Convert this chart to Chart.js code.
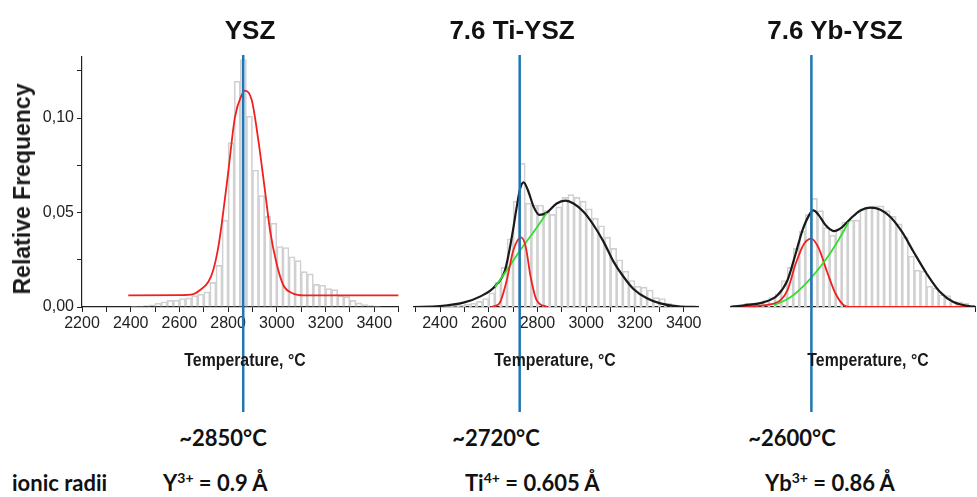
<!DOCTYPE html>
<html>
<head>
<meta charset="utf-8">
<script src="https://cdn.jsdelivr.net/npm/chart.js@4.4.0/dist/chart.umd.min.js"></script>
<style>
  body { margin: 0; background: #fff; }
  #wrap { position: relative; width: 977px; height: 497px; overflow: hidden; font-family: 'Liberation Sans', Arial, sans-serif; color: #111; }
  #wrap canvas { position: absolute; top: 0; }
  .head { position: absolute; top: 15px; font-weight: bold; font-size: 26px; line-height: 30px; transform: translateX(-50%); white-space: nowrap; }
  .xt { position: absolute; top: 349px; font-weight: bold; font-size: 18px; line-height: 22px; transform: translateX(-50%) scaleX(0.88); white-space: nowrap; color: #1a1a1a; }
  .yt { position: absolute; left: 22px; top: 189px; font-weight: bold; font-size: 23px; line-height: 26px; transform: translate(-50%, -50%) rotate(-90deg); white-space: nowrap; color: #1a1a1a; }
  .note { position: absolute; font-family: Lato, 'Open Sans', sans-serif; font-weight: bold; font-size: 22px; line-height: 26px; white-space: nowrap; }
  .note.c { transform: translateX(-50%); }
  .note sup { font-size: 14px; vertical-align: 8px; line-height: 0; }
</style>
</head>
<body>
<div id="wrap">
  <canvas id="cYsz" width="410" height="415" style="left:0px"></canvas>
  <canvas id="cTi" width="305" height="415" style="left:400px"></canvas>
  <canvas id="cYb" width="262" height="415" style="left:715px"></canvas>

  <div class="head" style="left:250px">YSZ</div>
  <div class="head" style="left:512px">7.6 Ti-YSZ</div>
  <div class="head" style="left:835px">7.6 Yb-YSZ</div>

  <div class="yt">Relative Frequency</div>

  <div class="xt" style="left:245px">Temperature, °C</div>
  <div class="xt" style="left:555px">Temperature, °C</div>
  <div class="xt" style="left:868px">Temperature, °C</div>

  <div class="note c" style="left:223px; top:425px">~2850°C</div>
  <div class="note c" style="left:496px; top:425px">~2720°C</div>
  <div class="note c" style="left:792px; top:425px">~2600°C</div>

  <div class="note" style="left:12px; top:470px">ionic radii</div>
  <div class="note" style="left:163px; top:470px">Y<sup>3+</sup> = 0.9 Å</div>
  <div class="note" style="left:465px; top:470px">Ti<sup>4+</sup> = 0.605 Å</div>
  <div class="note" style="left:765px; top:470px">Yb<sup>3+</sup> = 0.86 Å</div>
</div>

<script>
// histogram bin centres (25 °C bins) and relative frequencies
const yszBins = [2412.5, 2437.5, 2462.5, 2487.5, 2512.5, 2537.5, 2562.5, 2587.5, 2612.5, 2637.5,
  2662.5, 2687.5, 2712.5, 2737.5, 2762.5, 2787.5, 2812.5, 2837.5, 2862.5, 2887.5,
  2912.5, 2937.5, 2962.5, 2987.5, 3012.5, 3037.5, 3062.5, 3087.5, 3112.5, 3137.5,
  3162.5, 3187.5, 3212.5, 3237.5, 3262.5, 3287.5, 3312.5, 3337.5, 3362.5, 3387.5, 3412.5];
const yszFreq = [0.0003, 0.0005, 0.0008, 0.0012, 0.002, 0.0028, 0.0035, 0.0036, 0.0045, 0.0048,
  0.006, 0.0068, 0.008, 0.013, 0.022, 0.046, 0.087, 0.1195, 0.131, 0.101,
  0.0725, 0.059, 0.048, 0.0444, 0.032, 0.0315, 0.0266, 0.0245, 0.0187, 0.0175,
  0.012, 0.0115, 0.0097, 0.0092, 0.006, 0.0055, 0.0035, 0.0022, 0.0013, 0.0008, 0.0005];

const tiBins = [2412.5, 2437.5, 2462.5, 2487.5, 2512.5, 2537.5, 2562.5, 2587.5, 2612.5, 2637.5,
  2662.5, 2687.5, 2712.5, 2737.5, 2762.5, 2787.5, 2812.5, 2837.5, 2862.5, 2887.5,
  2912.5, 2937.5, 2962.5, 2987.5, 3012.5, 3037.5, 3062.5, 3087.5, 3112.5, 3137.5,
  3162.5, 3187.5, 3212.5, 3237.5, 3262.5, 3287.5, 3312.5, 3337.5, 3362.5];
const tiFreq = [0.0003, 0.0005, 0.001, 0.001, 0.0015, 0.002, 0.003, 0.0045, 0.0075, 0.013,
  0.021, 0.036, 0.056, 0.076, 0.055, 0.054, 0.054, 0.051, 0.049, 0.053,
  0.058, 0.0595, 0.058, 0.056, 0.052, 0.047, 0.043, 0.037, 0.031, 0.025,
  0.019, 0.014, 0.011, 0.0105, 0.009, 0.005, 0.0045, 0.002, 0.001];

const ybBins = [2312.5, 2337.5, 2362.5, 2387.5, 2412.5, 2437.5, 2462.5, 2487.5, 2512.5, 2537.5,
  2562.5, 2587.5, 2612.5, 2637.5, 2662.5, 2687.5, 2712.5, 2737.5, 2762.5, 2787.5,
  2812.5, 2837.5, 2862.5, 2887.5, 2912.5, 2937.5, 2962.5, 2987.5, 3012.5, 3037.5,
  3062.5, 3087.5, 3112.5, 3137.5, 3162.5, 3187.5, 3212.5, 3237.5, 3262.5, 3287.5];
const ybFreq = [0.0008, 0.001, 0.002, 0.002, 0.0025, 0.0035, 0.005, 0.007, 0.014, 0.021,
  0.031, 0.040, 0.049, 0.0575, 0.051, 0.042, 0.038, 0.041, 0.045, 0.046,
  0.046, 0.052, 0.053, 0.0535, 0.0535, 0.051, 0.048, 0.044, 0.037, 0.027,
  0.0195, 0.019, 0.011, 0.010, 0.0065, 0.006, 0.003, 0.0028, 0.002, 0.001];

// fitted curves
const yszRedX = [2390, 2602, 2657, 2685, 2719, 2739, 2760, 2774, 2801, 2828, 2856, 2870, 2897, 2924, 2951, 2972, 2999, 3027, 3068, 3110, 3500];
const yszRedY = [0.0062, 0.0063, 0.0068, 0.009, 0.0134, 0.0196, 0.032, 0.0443, 0.072, 0.1005, 0.1122, 0.1145, 0.1095, 0.0883, 0.0619, 0.0407, 0.023, 0.0115, 0.0071, 0.0062, 0.0062];

const tiSumX = [2290, 2400, 2496, 2564, 2626, 2667, 2695, 2715, 2729, 2743, 2763, 2784, 2808, 2838, 2879, 2914, 2948, 2989, 3030, 3071, 3112, 3153, 3195, 3249, 3304, 3386, 3460];
const tiSumY = [0, 0.0005, 0.0023, 0.0055, 0.011, 0.0196, 0.0372, 0.0531, 0.0628, 0.066, 0.061, 0.0531, 0.0487, 0.0499, 0.0548, 0.0563, 0.0548, 0.0504, 0.0434, 0.0346, 0.024, 0.016, 0.0094, 0.0046, 0.0019, 0.0002, 0];
const tiRedX = [2610, 2625, 2647, 2674, 2701, 2733, 2752, 2772, 2797, 2840];
const tiRedY = [0, 0.0005, 0.0026, 0.0141, 0.030, 0.0368, 0.0317, 0.0159, 0.0035, 0];
const tiGreenX = [2626, 2674, 2729, 2784, 2838];
const tiGreenY = [0.0106, 0.0194, 0.030, 0.0397, 0.0497];

const ybSumX = [2290, 2348, 2430, 2485, 2526, 2560, 2588, 2615, 2633, 2656, 2684, 2718, 2752, 2786, 2827, 2868, 2910, 2951, 2999, 3047, 3101, 3156, 3211, 3279, 3300];
const ybSumY = [0, 0.0009, 0.0026, 0.0062, 0.0141, 0.0282, 0.0406, 0.0485, 0.0511, 0.0485, 0.0432, 0.0402, 0.0423, 0.0467, 0.0511, 0.0526, 0.0515, 0.0476, 0.0397, 0.0291, 0.0176, 0.0079, 0.0026, 0.0004, 0.0002];
const ybRedX = [2290, 2471, 2526, 2560, 2595, 2625, 2656, 2690, 2725, 2759, 2786, 3300];
const ybRedY = [0, 0.0018, 0.0088, 0.0229, 0.0335, 0.0362, 0.0309, 0.0185, 0.007, 0.0009, 0, 0];
const ybGreenX = [2471, 2540, 2608, 2677, 2732, 2779];
const ybGreenY = [0.0009, 0.0053, 0.0132, 0.0238, 0.0344, 0.045];

// peak positions marked with the blue line
const peakYsz = 2862;
const peakTi = 2727;
const peakYb = 2625;

const YMAX = 0.1323;
const INK = '#222';
const tickFont = { family: "'Liberation Sans', Arial, sans-serif", size: 16 };

const pts = (xs, ys) => xs.map((x, i) => ({ x, y: ys[i] }));

const markerLine = {
  id: 'markerLine',
  afterDatasetsDraw(chart, args, opts) {
    const x = chart.scales.x.getPixelForValue(opts.value);
    const ctx = chart.ctx;
    ctx.save();
    ctx.strokeStyle = '#1f76b5';
    ctx.lineWidth = 2.5;
    ctx.beginPath();
    ctx.moveTo(x, chart.chartArea.top - 2);
    ctx.lineTo(x, chart.height - 3);
    ctx.stroke();
    ctx.restore();
  }
};

function histSet(bins, freq) {
  return {
    type: 'bar',
    data: pts(bins, freq),
    backgroundColor: 'rgba(255,255,255,0)',
    borderColor: '#d0d0d0',
    borderWidth: 1,
    barPercentage: 1,
    categoryPercentage: 1,
    order: 5
  };
}

function curveSet(xs, ys, color, width) {
  return {
    type: 'line',
    data: pts(xs, ys),
    borderColor: color,
    borderWidth: width,
    pointRadius: 0,
    cubicInterpolationMode: 'monotone',
    fill: false,
    order: 1
  };
}

function xScale(min, max) {
  return {
    type: 'linear',
    min, max,
    offset: false,
    grid: { display: true, offset: false, drawOnChartArea: false, drawTicks: true, tickLength: 5, color: INK },
    border: { display: true, color: INK, width: 1.2 },
    afterBuildTicks: s => { s.ticks = s.ticks.filter(t => t.value % 100 === 0); },
    afterFit: s => { s.height = 108; },
    ticks: {
      stepSize: 100, includeBounds: false, autoSkip: false, maxRotation: 0, padding: 2, color: INK, font: tickFont,
      callback: v => (v % 200 === 0 ? String(v) : '')
    }
  };
}

function makePanel(id, datasets, xmin, xmax, peak, padding, showY) {
  const y = showY ? {
    min: 0, max: YMAX,
    grid: { drawOnChartArea: false, tickLength: 5, color: INK },
    border: { display: true, color: INK, width: 1.2 },
    afterBuildTicks: s => { s.ticks = s.ticks.filter(t => Math.abs(t.value * 40 - Math.round(t.value * 40)) < 1e-6); },
    afterFit: s => { s.width = 82; },
    ticks: {
      stepSize: 0.025, includeBounds: false, padding: 3, color: INK, font: tickFont,
      callback: v => (Math.abs(v * 20 - Math.round(v * 20)) < 1e-6 ? v.toFixed(2).replace('.', ',') : '')
    }
  } : { display: false, min: 0, max: YMAX };

  return new Chart(document.getElementById(id), {
    type: 'bar',
    data: { datasets },
    options: {
      responsive: false,
      animation: false,
      events: [],
      layout: { padding },
      plugins: { legend: { display: false }, tooltip: { enabled: false }, markerLine: { value: peak } },
      scales: { x: xScale(xmin, xmax), y }
    },
    plugins: [markerLine]
  });
}

makePanel('cYsz', [
  histSet(yszBins, yszFreq),
  curveSet(yszRedX, yszRedY, '#f0201e', 1.8)
], 2200, 3500, peakYsz, { left: 0, right: 11.4, top: 57, bottom: 0 }, true);

makePanel('cTi', [
  histSet(tiBins, tiFreq),
  curveSet(tiRedX, tiRedY, '#f0201e', 1.8),
  curveSet(tiGreenX, tiGreenY, '#2fe02f', 1.8),
  curveSet(tiSumX, tiSumY, '#1a1a1a', 2.2)
], 2290, 3460, peakTi, { left: 13.2, right: 6.7, top: 57, bottom: 0 }, false);

makePanel('cYb', [
  histSet(ybBins, ybFreq),
  curveSet(ybGreenX, ybGreenY, '#2fe02f', 1.8),
  curveSet(ybSumX, ybSumY, '#1a1a1a', 2.2),
  curveSet(ybRedX, ybRedY, '#f0201e', 1.8)
], 2290, 3300, peakYb, { left: 15.2, right: 1, top: 57, bottom: 0 }, false);
</script>
</body>
</html>
